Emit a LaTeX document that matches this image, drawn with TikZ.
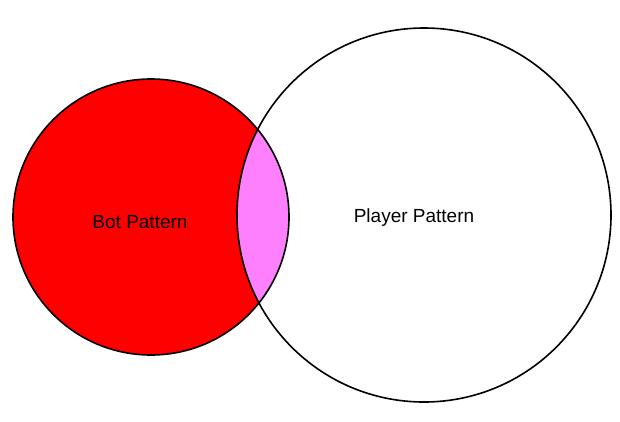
\documentclass[tikz,border=0pt]{standalone}
\usepackage{fontspec}
\setmainfont{Liberation Sans}
\definecolor{botred}{HTML}{FE0000}
\definecolor{lenspink}{HTML}{FF80FF}
\begin{document}
\begin{tikzpicture}[x=1pt,y=-1pt,
  outline/.style={draw=black,line width=1.6pt},
  lbl/.style={font=\fontsize{19}{22}\selectfont,text=black,inner sep=0pt}]
\useasboundingbox[fill=white] (0,0) rectangle (620,421);
\coordinate (bc) at (151,217);
\coordinate (pc) at (424,215);
\fill[botred] (bc) circle[radius=138];
\begin{scope}
  \clip (bc) circle[radius=138];
  \fill[lenspink] (pc) circle[radius=187];
\end{scope}
\draw[outline] (bc) circle[radius=138];
\draw[outline] (pc) circle[radius=187];
\node[lbl] (bot) at (140,222) {Bot Pattern};
\node[lbl] (player) at (414,218) {Player Pattern};
\end{tikzpicture}
\end{document}
